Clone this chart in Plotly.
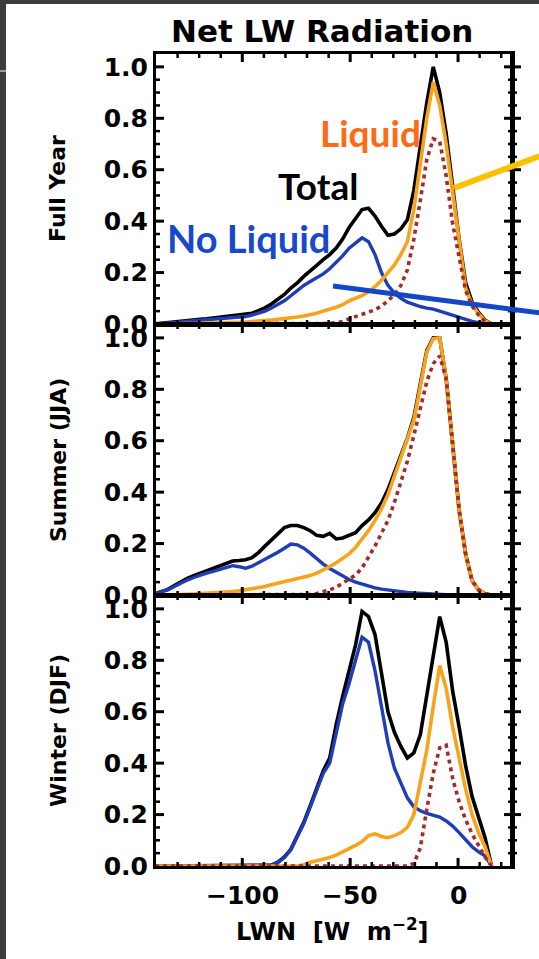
import plotly.graph_objects as go

W, H = 539, 959

# Histogram bin centres of net longwave radiation (W m-2)
LWN = [-140.5, -137.5, -134.5, -131.5, -128.5, -125.5, -122.5, -119.5, -116.5, -113.5,
       -110.5, -107.5, -104.5, -101.5, -98.5, -95.5, -92.5, -89.5, -86.5, -83.5,
       -80.5, -77.5, -74.5, -71.5, -68.5, -65.5, -62.5, -59.5, -56.5, -53.5,
       -50.5, -47.5, -44.5, -41.5, -38.5, -35.5, -32.5, -29.5, -26.5, -23.5,
       -20.5, -17.5, -14.5, -11.5, -8.5, -5.5, -2.5, 0.5, 3.5, 6.5,
       9.5, 12.5, 15.5]

# ---- Full year (normalised frequency) ----
FY_TOTAL = [0.0, 0.003, 0.006, 0.008, 0.010, 0.012, 0.015, 0.018, 0.020, 0.023,
            0.026, 0.029, 0.031, 0.033, 0.036, 0.042, 0.052, 0.063, 0.078, 0.095,
            0.115, 0.140, 0.160, 0.185, 0.205, 0.228, 0.250, 0.270, 0.295, 0.330,
            0.375, 0.410, 0.445, 0.450, 0.420, 0.380, 0.345, 0.350, 0.370, 0.405,
            0.520, 0.690, 0.860, 1.000, 0.900, 0.740, 0.540, 0.330, 0.160, 0.085,
            0.045, 0.015, 0.0]
FY_NO_LIQUID = [0.0, 0.002, 0.004, 0.006, 0.008, 0.010, 0.012, 0.014, 0.016, 0.018,
                0.020, 0.022, 0.024, 0.026, 0.029, 0.035, 0.042, 0.050, 0.062, 0.075,
                0.090, 0.110, 0.130, 0.150, 0.165, 0.180, 0.195, 0.215, 0.240, 0.265,
                0.295, 0.315, 0.335, 0.320, 0.270, 0.200, 0.150, 0.120, 0.100, 0.085,
                0.075, 0.068, 0.062, 0.058, 0.050, 0.042, 0.033, 0.025, 0.018, 0.010,
                0.005, 0.002, 0.0]
FY_LIQUID = [0.0, 0.0, 0.0, 0.001, 0.002, 0.002, 0.003, 0.003, 0.004, 0.004,
             0.005, 0.005, 0.006, 0.007, 0.008, 0.009, 0.011, 0.013, 0.015, 0.018,
             0.020, 0.023, 0.027, 0.031, 0.036, 0.042, 0.050, 0.056, 0.065, 0.075,
             0.090, 0.100, 0.110, 0.125, 0.145, 0.170, 0.200, 0.230, 0.270, 0.320,
             0.445, 0.620, 0.800, 0.940, 0.850, 0.700, 0.510, 0.305, 0.140, 0.075,
             0.040, 0.013, 0.0]
FY_DOTTED = [0.0, 0.0, 0.0, 0.0, 0.0, 0.0, 0.0, 0.0, 0.0, 0.0,
             0.0, 0.0, 0.0, 0.0, 0.0, 0.0, 0.0, 0.0, 0.0, 0.0,
             0.0, 0.0, 0.0, 0.0, 0.0, 0.0, 0.0, 0.002, 0.005, 0.010,
             0.020, 0.028, 0.036, 0.045, 0.055, 0.070, 0.090, 0.115, 0.150, 0.210,
             0.330, 0.480, 0.640, 0.720, 0.710, 0.575, 0.390, 0.260, 0.130, 0.070,
             0.035, 0.010, 0.0]

# ---- Summer (JJA) ----
SU_TOTAL = [0.005, 0.012, 0.022, 0.037, 0.053, 0.065, 0.075, 0.085, 0.095, 0.104,
            0.113, 0.122, 0.132, 0.134, 0.137, 0.145, 0.165, 0.190, 0.215, 0.240,
            0.262, 0.270, 0.270, 0.262, 0.250, 0.232, 0.228, 0.240, 0.218, 0.222,
            0.233, 0.242, 0.270, 0.292, 0.320, 0.358, 0.410, 0.478, 0.545, 0.610,
            0.690, 0.820, 0.950, 1.000, 1.000, 0.840, 0.570, 0.330, 0.160, 0.055,
            0.020, 0.005, 0.0]
SU_NO_LIQUID = [0.005, 0.012, 0.020, 0.033, 0.047, 0.058, 0.068, 0.078, 0.085, 0.092,
                0.100, 0.107, 0.114, 0.110, 0.104, 0.112, 0.125, 0.138, 0.152, 0.166,
                0.182, 0.198, 0.195, 0.182, 0.163, 0.140, 0.120, 0.103, 0.088, 0.073,
                0.060, 0.050, 0.042, 0.034, 0.028, 0.023, 0.019, 0.016, 0.013, 0.010,
                0.008, 0.006, 0.004, 0.003, 0.002, 0.001, 0.0, 0.0, 0.0, 0.0,
                0.0, 0.0, 0.0]
SU_LIQUID = [0.0, 0.0, 0.0, 0.001, 0.002, 0.003, 0.004, 0.005, 0.006, 0.007,
             0.009, 0.011, 0.013, 0.016, 0.020, 0.024, 0.028, 0.033, 0.040, 0.046,
             0.052, 0.057, 0.062, 0.068, 0.076, 0.085, 0.097, 0.110, 0.125, 0.142,
             0.160, 0.185, 0.215, 0.250, 0.290, 0.335, 0.390, 0.460, 0.530, 0.600,
             0.680, 0.810, 0.945, 0.997, 1.000, 0.840, 0.570, 0.330, 0.160, 0.055,
             0.020, 0.005, 0.0]
SU_DOTTED = [0.0, 0.0, 0.0, 0.0, 0.0, 0.0, 0.0, 0.0, 0.0, 0.0,
             0.0, 0.0, 0.0, 0.0, 0.0, 0.0, 0.0, 0.0, 0.0, 0.0,
             0.0, 0.0, 0.0, 0.0, 0.002, 0.006, 0.012, 0.020, 0.030, 0.045,
             0.064, 0.078, 0.105, 0.145, 0.190, 0.240, 0.290, 0.360, 0.440, 0.520,
             0.620, 0.730, 0.830, 0.900, 0.930, 0.840, 0.570, 0.330, 0.160, 0.055,
             0.020, 0.005, 0.0]

# ---- Winter (DJF) ----
WI_TOTAL = [0.0, 0.0, 0.0, 0.0, 0.0, 0.0, 0.0, 0.0, 0.0, 0.0,
            0.0, 0.0, 0.0, 0.0, 0.0, 0.0, 0.0, 0.0, 0.003, 0.015,
            0.035, 0.065, 0.120, 0.170, 0.235, 0.300, 0.370, 0.420, 0.550, 0.660,
            0.760, 0.860, 0.990, 0.970, 0.900, 0.750, 0.600, 0.520, 0.465, 0.420,
            0.440, 0.510, 0.660, 0.800, 0.970, 0.870, 0.680, 0.540, 0.390, 0.270,
            0.185, 0.110, 0.0]
WI_NO_LIQUID = [0.0, 0.0, 0.0, 0.0, 0.0, 0.0, 0.0, 0.0, 0.0, 0.0,
                0.0, 0.0, 0.0, 0.0, 0.0, 0.0, 0.0, 0.0, 0.003, 0.014,
                0.033, 0.063, 0.115, 0.165, 0.230, 0.295, 0.360, 0.400, 0.520, 0.630,
                0.710, 0.800, 0.890, 0.870, 0.760, 0.620, 0.480, 0.380, 0.320, 0.265,
                0.230, 0.215, 0.205, 0.198, 0.190, 0.175, 0.155, 0.130, 0.100, 0.075,
                0.055, 0.040, 0.0]
WI_LIQUID = [0.0, 0.0, 0.0, 0.0, 0.0, 0.0, 0.0, 0.0, 0.0, 0.0,
             0.0, 0.0, 0.0, 0.0, 0.0, 0.0, 0.0, 0.0, 0.0, 0.0,
             0.0, 0.0, 0.0, 0.005, 0.015, 0.020, 0.025, 0.033, 0.042, 0.055,
             0.065, 0.080, 0.095, 0.118, 0.125, 0.115, 0.110, 0.118, 0.130, 0.150,
             0.200, 0.320, 0.450, 0.620, 0.780, 0.690, 0.540, 0.420, 0.300, 0.200,
             0.130, 0.075, 0.0]
WI_DOTTED = [0.0, 0.0, 0.0, 0.0, 0.0, 0.0, 0.0, 0.0, 0.0, 0.0,
             0.0, 0.0, 0.0, 0.0, 0.0, 0.0, 0.0, 0.0, 0.0, 0.0,
             0.0, 0.0, 0.0, 0.0, 0.0, 0.0, 0.0, 0.0, 0.0, 0.0,
             0.0, 0.0, 0.0, 0.0, 0.0, 0.0, 0.0, 0.0, 0.0, 0.0,
             0.010, 0.070, 0.220, 0.360, 0.460, 0.470, 0.340, 0.250, 0.180, 0.125,
             0.080, 0.035, 0.0]

PANEL_TITLES = ["Full Year", "Summer (JJA)", "Winter (DJF)"]
PANEL_SERIES = [
    (FY_TOTAL, FY_NO_LIQUID, FY_LIQUID, FY_DOTTED),
    (SU_TOTAL, SU_NO_LIQUID, SU_LIQUID, SU_DOTTED),
    (WI_TOTAL, WI_NO_LIQUID, WI_LIQUID, WI_DOTTED),
]
X_TICKS = [-100, -50, 0]
X_TICK_TEXT = ["\u2212100", "\u221250", "0"]
X_MINOR = [-130, -120, -110, -90, -80, -70, -60, -40, -30, -20, -10, 10, 20]
Y_TICKS = [0.2, 0.4, 0.6, 0.8, 1.0]
Y_MINOR = [0.05, 0.10, 0.15, 0.25, 0.30, 0.35, 0.45, 0.50, 0.55, 0.65, 0.70,
           0.75, 0.85, 0.90, 0.95]
X_RANGE = [-140, 25]
Y_RANGE = [0, 1.05]

C_TOTAL = "#000000"
C_NOLIQ = "#1e3db6"
C_LIQ = "#f9a31a"
C_DOT = "#a52a2a"

# panel geometry in pixels
PLOT_L, PLOT_R = 156, 512
PANEL_TOP = [54, 325, 596]
PANEL_BOT = [324, 595, 866]
PLOT_W = PLOT_R - PLOT_L
PLOT_H = PANEL_BOT[0] - PANEL_TOP[0]
NEIGH_W = W - (PLOT_R + 1)
MAJOR_LEN, MINOR_LEN = 8, 4


def px(x):
    return x / W


def py(y):
    return 1 - y / H


TICK_FONT = dict(family="DejaVu Sans", size=25, color="black", weight="bold")
LABEL_FONT = dict(family="DejaVu Sans", size=22, color="black", weight="bold")

fig = go.Figure()
layout = {}
shapes = []


def tick(xref, yref, x0, x1, y0, y1, width):
    shapes.append(dict(type="line", xref=xref, yref=yref, x0=x0, x1=x1,
                       y0=y0, y1=y1, line=dict(color="black", width=width)))


for i, series in enumerate(PANEL_SERIES):
    n = "" if i == 0 else str(i + 1)
    total, noliq, liq, dotted = series
    for vals, color, dash, width in [
        (total, C_TOTAL, "solid", 3.6),
        (noliq, C_NOLIQ, "solid", 3.4),
        (liq, C_LIQ, "solid", 3.6),
        (dotted, C_DOT, "4px,4px", 3.6),
    ]:
        fig.add_trace(go.Scatter(
            x=LWN, y=vals, mode="lines",
            line=dict(color=color, width=width, dash=dash),
            xaxis="x" + n, yaxis="y" + n,
            showlegend=False, hoverinfo="skip",
        ))

    common = dict(
        showline=True, linecolor="black", linewidth=3, mirror=True, ticks="",
        showgrid=False, zeroline=False, automargin=False,
    )
    layout["xaxis" + n] = dict(
        common, domain=[px(PLOT_L), px(PLOT_R)], range=X_RANGE,
        anchor="y" + n, dtick=50, showticklabels=False,
    )
    layout["yaxis" + n] = dict(
        common, domain=[py(PANEL_BOT[i]), py(PANEL_TOP[i])], range=Y_RANGE,
        anchor="x" + n, dtick=0.2, tickformat=".1f", tickfont=TICK_FONT,
    )

    # inward tick marks on all four sides of the frame
    xd, yd = "x" + n + " domain", "y" + n + " domain"
    xs, ys = "x" + n, "y" + n
    for vals, ln, w in [(Y_TICKS, MAJOR_LEN, 3), (Y_MINOR, MINOR_LEN, 2.5)]:
        f = ln / PLOT_W
        for v in vals:
            tick(xd, ys, 0, f, v, v, w)
            tick(xd, ys, 1 - f, 1, v, v, w)
    for vals, ln, w in [(X_TICKS, MAJOR_LEN, 3), (X_MINOR, MINOR_LEN, 2.5)]:
        f = ln / PLOT_H
        for v in vals:
            tick(xs, yd, v, v, 0, f, w)
            tick(xs, yd, v, v, 1 - f, 1, w)

    # left axis of the neighbouring panel, sharing the right frame
    m = str(i + 4)
    layout["xaxis" + m] = dict(domain=[px(PLOT_R + 1), 1.0], range=[0, 1],
                               visible=False, anchor="y" + m, automargin=False)
    layout["yaxis" + m] = dict(
        domain=[py(PANEL_BOT[i]), py(PANEL_TOP[i])], range=Y_RANGE, anchor="x" + m,
        showline=True, linecolor="black", linewidth=3, ticks="", automargin=False,
        showticklabels=False, showgrid=False, zeroline=False,
    )
    for vals, ln, w in [(Y_TICKS, MAJOR_LEN, 3), (Y_MINOR, MINOR_LEN, 2.5)]:
        for v in vals:
            tick("x" + m + " domain", "y" + m, 0, ln / NEIGH_W, v, v, w)

annotations = [
    dict(text="Net LW Radiation", x=px(322), y=py(31), xref="paper", font=dict(
        family="DejaVu Sans", size=31, color="black", weight="bold")),
    dict(text="LWN\u00a0 [W\u00a0 m<sup>\u22122</sup>]", x=px(332), y=py(930),
         xref="paper",
         font=dict(family="DejaVu Sans", size=24, color="black", weight="bold")),
]
# x tick labels under the bottom panel, placed on its x scale
for val, txt in zip(X_TICKS, X_TICK_TEXT):
    annotations.append(dict(text=txt, x=val, xref="x3", y=py(895), font=TICK_FONT))

for i, title in enumerate(PANEL_TITLES):
    annotations.append(dict(
        text=title, x=px(58), xref="paper", y=py((PANEL_TOP[i] + PANEL_BOT[i]) / 2),
        textangle=-90, font=LABEL_FONT))

# series labels
annotations += [
    dict(text="Liquid", x=px(370), y=py(133), xref="paper",
         font=dict(family="Lato", size=37, color="#ff6a13", weight="bold")),
    dict(text="Total", x=px(318), y=py(185), xref="paper",
         font=dict(family="Lato", size=37, color="black", weight="bold")),
    dict(text="No Liquid", x=px(248), y=py(238), xref="paper",
         font=dict(family="Lato", size=38, color="#1848cc", weight="bold")),
]
for a in annotations:
    a.update(yref="paper", showarrow=False, xanchor="center", yanchor="middle")

frame_shapes = [
    # dark slide border
    dict(type="rect", x0=0, x1=px(6), y0=0, y1=1, fillcolor="#3c3c3c", line_width=0),
    dict(type="rect", x0=0, x1=1, y0=py(4), y1=1, fillcolor="#3c3c3c", line_width=0),
    dict(type="line", x0=0, x1=px(6), y0=py(71), y1=py(71),
         line=dict(color="#9a9a9a", width=2)),
    # pointer lines
    dict(type="line", x0=px(454), y0=py(188), x1=px(548), y1=py(153),
         line=dict(color="#ffc000", width=6)),
    dict(type="line", x0=px(333), y0=py(286), x1=px(548), y1=py(314),
         line=dict(color="#1446c8", width=5)),
]
for s in frame_shapes:
    s.update(xref="paper", yref="paper")
shapes += frame_shapes

fig.update_layout(
    template="none",
    width=W, height=H, autosize=False, margin=dict(l=0, r=0, t=0, b=0, pad=0),
    paper_bgcolor="white", plot_bgcolor="white",
    annotations=annotations, shapes=shapes, **layout,
)

fig.write_html("out.html", config={"responsive": False})
